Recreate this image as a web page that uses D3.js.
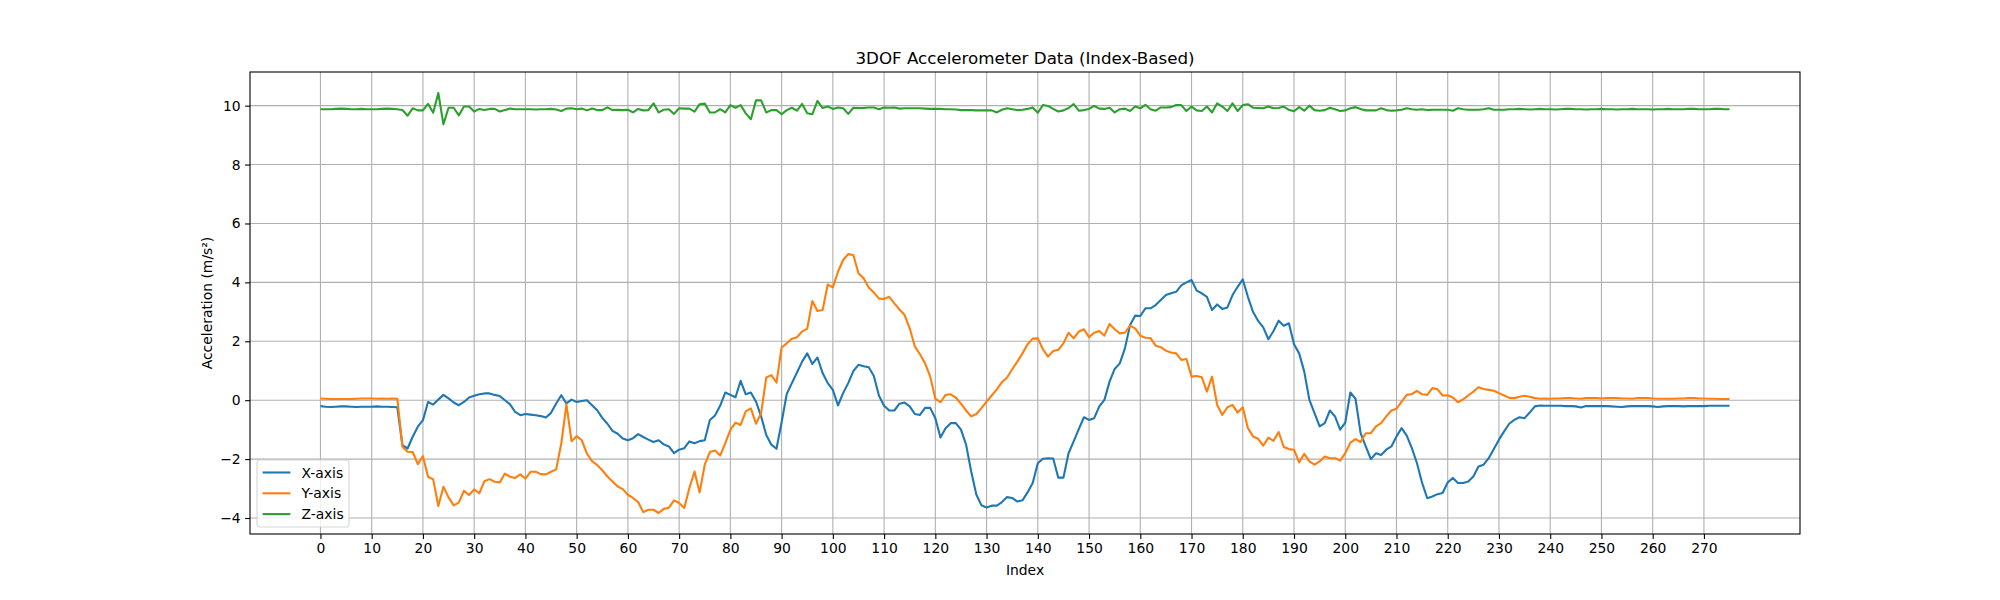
<!DOCTYPE html>
<html>
<head>
<meta charset="utf-8">
<title>3DOF Accelerometer Data</title>
<script src="https://cdn.jsdelivr.net/npm/d3@7"></script>
<style>
  body { margin: 0; background: #fff; }
  svg { display: block; font-family: "DejaVu Sans", sans-serif; }
</style>
</head>
<body>
<svg id="chart" width="2000" height="600"></svg>
<script>
// accelerometer samples (index 0..275)
const accX = [
  -0.20,-0.22,-0.23,-0.22,-0.21,-0.21,-0.22,-0.23,-0.22,-0.22,
  -0.22,-0.21,-0.22,-0.22,-0.23,-0.24,-1.53,-1.64,-1.24,-0.90,
  -0.68,-0.06,-0.15,0.02,0.18,0.06,-0.08,-0.17,-0.06,0.09,
  0.15,0.20,0.23,0.23,0.18,0.14,0.00,-0.14,-0.40,-0.51,
  -0.47,-0.49,-0.51,-0.54,-0.59,-0.43,-0.11,0.17,-0.11,0.02,
  -0.06,-0.03,0.00,-0.17,-0.34,-0.60,-0.80,-1.04,-1.14,-1.30,
  -1.36,-1.29,-1.15,-1.25,-1.34,-1.42,-1.36,-1.50,-1.57,-1.80,
  -1.68,-1.63,-1.40,-1.46,-1.39,-1.36,-0.67,-0.52,-0.19,0.26,
  0.18,0.10,0.66,0.20,0.26,-0.05,-0.55,-1.18,-1.51,-1.65,
  -0.75,0.21,0.58,0.94,1.31,1.59,1.23,1.45,0.92,0.58,
  0.35,-0.18,0.24,0.58,0.99,1.20,1.15,1.12,0.82,0.15,
  -0.19,-0.35,-0.35,-0.12,-0.08,-0.21,-0.47,-0.50,-0.26,-0.26,
  -0.61,-1.27,-0.95,-0.78,-0.78,-1.00,-1.51,-2.42,-3.20,-3.57,
  -3.64,-3.58,-3.58,-3.46,-3.29,-3.32,-3.44,-3.40,-3.13,-2.81,
  -2.14,-1.99,-1.97,-1.98,-2.63,-2.63,-1.80,-1.40,-0.98,-0.58,
  -0.67,-0.61,-0.21,0.01,0.63,1.06,1.25,1.76,2.55,2.87,
  2.86,3.12,3.12,3.23,3.40,3.57,3.63,3.68,3.90,4.00,
  4.08,3.72,3.63,3.51,3.06,3.25,3.10,3.15,3.57,3.85,
  4.10,3.51,3.00,2.69,2.47,2.07,2.35,2.70,2.53,2.61,
  1.90,1.59,0.97,0.01,-0.44,-0.89,-0.78,-0.35,-0.55,-1.00,
  -0.76,0.26,0.05,-1.12,-1.57,-2.00,-1.80,-1.86,-1.68,-1.57,
  -1.23,-0.95,-1.20,-1.63,-2.14,-2.81,-3.33,-3.27,-3.19,-3.15,
  -2.79,-2.64,-2.81,-2.81,-2.76,-2.59,-2.25,-2.19,-1.97,-1.66,
  -1.34,-1.06,-0.80,-0.67,-0.58,-0.61,-0.42,-0.21,-0.18,-0.19,
  -0.19,-0.19,-0.19,-0.20,-0.20,-0.21,-0.25,-0.20,-0.20,-0.20,
  -0.20,-0.20,-0.21,-0.22,-0.23,-0.21,-0.20,-0.20,-0.20,-0.20,
  -0.21,-0.23,-0.21,-0.20,-0.20,-0.20,-0.21,-0.20,-0.20,-0.20,
  -0.20,-0.19,-0.19,-0.19,-0.19,-0.19
];

const accY = [
  0.06,0.05,0.04,0.04,0.04,0.04,0.04,0.05,0.06,0.06,
  0.06,0.05,0.06,0.05,0.06,0.05,-1.58,-1.75,-1.76,-2.17,
  -1.90,-2.60,-2.69,-3.59,-2.94,-3.30,-3.57,-3.48,-3.08,-3.22,
  -3.03,-3.16,-2.75,-2.68,-2.77,-2.79,-2.49,-2.60,-2.64,-2.52,
  -2.66,-2.43,-2.43,-2.51,-2.52,-2.43,-2.35,-1.47,-0.14,-1.39,
  -1.22,-1.36,-1.81,-2.07,-2.20,-2.38,-2.59,-2.76,-2.93,-3.02,
  -3.21,-3.32,-3.46,-3.80,-3.72,-3.72,-3.83,-3.69,-3.65,-3.40,
  -3.49,-3.66,-2.98,-2.42,-3.13,-2.19,-1.76,-1.71,-1.88,-1.46,
  -1.01,-0.76,-0.84,-0.38,-0.28,-0.80,-0.44,0.77,0.85,0.60,
  1.79,1.93,2.09,2.14,2.33,2.43,3.37,3.03,3.06,3.93,
  3.83,4.36,4.76,4.96,4.93,4.31,4.14,3.83,3.66,3.45,
  3.44,3.51,3.29,3.08,2.89,2.44,1.82,1.56,1.25,0.80,
  0.05,-0.07,0.18,0.20,0.09,-0.12,-0.35,-0.55,-0.47,-0.27,
  -0.05,0.16,0.37,0.61,0.77,1.05,1.31,1.59,1.90,2.09,
  2.10,1.73,1.48,1.67,1.71,1.93,2.29,2.10,2.33,2.41,
  2.14,2.29,2.35,2.19,2.59,2.41,2.27,2.29,2.53,2.44,
  2.19,2.12,2.11,1.85,1.80,1.68,1.62,1.59,1.37,1.40,
  0.80,0.82,0.78,0.29,0.80,-0.16,-0.50,-0.24,-0.16,-0.42,
  -0.24,-0.95,-1.23,-1.31,-1.54,-1.27,-1.38,-1.08,-1.59,-1.66,
  -1.68,-2.11,-1.82,-2.08,-2.19,-2.08,-1.91,-1.97,-1.97,-2.05,
  -1.80,-1.44,-1.32,-1.42,-1.12,-1.12,-0.89,-0.78,-0.55,-0.35,
  -0.29,-0.05,0.18,0.21,0.32,0.20,0.18,0.41,0.37,0.16,
  0.17,0.09,-0.07,0.03,0.16,0.29,0.44,0.38,0.35,0.32,
  0.24,0.16,0.08,0.07,0.12,0.15,0.12,0.07,0.05,0.06,
  0.05,0.06,0.06,0.07,0.07,0.06,0.05,0.07,0.07,0.07,
  0.06,0.07,0.07,0.07,0.06,0.06,0.05,0.07,0.07,0.07,
  0.06,0.05,0.05,0.05,0.05,0.06,0.06,0.07,0.07,0.06,
  0.06,0.05,0.05,0.04,0.04,0.04
];

const accZ = [
  9.88,9.88,9.88,9.89,9.90,9.89,9.88,9.88,9.89,9.88,
  9.88,9.88,9.89,9.90,9.89,9.88,9.85,9.66,9.91,9.84,
  9.84,10.06,9.76,10.43,9.37,9.93,9.93,9.67,9.97,9.97,
  9.80,9.89,9.85,9.89,9.89,9.80,9.85,9.90,9.88,9.88,
  9.88,9.88,9.87,9.88,9.88,9.89,9.87,9.82,9.90,9.91,
  9.88,9.90,9.84,9.90,9.85,9.85,9.94,9.85,9.86,9.85,
  9.86,9.77,9.89,9.84,9.85,10.08,9.77,9.86,9.88,9.72,
  9.91,9.90,9.90,9.80,10.05,10.07,9.77,9.77,9.88,9.77,
  10.02,9.93,10.02,9.74,9.54,10.18,10.18,9.77,9.85,9.85,
  9.71,9.85,9.93,9.83,10.06,9.74,9.71,10.16,9.92,9.97,
  9.89,9.94,9.91,9.72,9.93,9.92,9.92,9.94,9.94,9.88,
  9.94,9.93,9.94,9.90,9.91,9.91,9.91,9.91,9.90,9.89,
  9.89,9.89,9.88,9.88,9.87,9.85,9.85,9.85,9.84,9.84,
  9.84,9.84,9.77,9.86,9.91,9.88,9.85,9.86,9.89,9.94,
  9.76,10.02,9.99,9.89,9.80,9.84,9.92,10.05,9.83,9.85,
  9.89,9.99,9.90,9.89,9.93,9.77,9.88,9.90,9.82,9.97,
  9.91,10.03,9.88,9.83,9.94,9.94,9.95,10.02,10.02,9.82,
  9.97,9.84,9.82,9.97,9.77,10.08,9.97,9.82,10.08,9.82,
  10.02,10.05,9.93,9.92,9.91,9.97,9.91,9.92,9.97,9.86,
  9.81,9.95,9.83,10.00,9.85,9.83,9.85,9.93,9.88,9.82,
  9.84,9.91,9.95,9.89,9.84,9.84,9.84,9.91,9.85,9.83,
  9.84,9.86,9.91,9.88,9.86,9.88,9.85,9.86,9.86,9.86,
  9.86,9.83,9.91,9.88,9.86,9.86,9.86,9.88,9.91,9.86,
  9.86,9.86,9.88,9.88,9.89,9.88,9.87,9.88,9.89,9.88,
  9.88,9.87,9.88,9.89,9.89,9.88,9.88,9.87,9.88,9.88,
  9.89,9.88,9.88,9.87,9.88,9.88,9.89,9.88,9.88,9.88,
  9.87,9.88,9.88,9.89,9.88,9.88,9.88,9.89,9.89,9.88,
  9.88,9.88,9.89,9.89,9.88,9.88
];

const seriesNames = ["X-axis", "Y-axis", "Z-axis"];
const seriesColors = ["#1f77b4", "#ff7f0e", "#2ca02c"];
const xTicks = d3.range(0, 271, 10);
const yTicks = [-4, -2, 0, 2, 4, 6, 8, 10];

const series = [accX, accY, accZ];

const W = 2000, H = 600;
const margin = { left: 250, right: 200, top: 72, bottom: 66 };
const x0 = margin.left, x1 = W - margin.right;
const y0 = margin.top, y1 = H - margin.bottom;

const svg = d3.select("#chart");

// matplotlib style 5% padding on both axes
const n = accX.length;
const xPad = (n - 1) * 0.05;
const x = d3.scaleLinear().domain([-xPad, n - 1 + xPad]).range([x0, x1]);

const allVals = [].concat(accX, accY, accZ);
const [vMin, vMax] = d3.extent(allVals);
const yPad = (vMax - vMin) * 0.05;
const y = d3.scaleLinear().domain([vMin - yPad, vMax + yPad]).range([y1, y0]);

// grid
const grid = svg.append("g");
grid.selectAll("line.gx")
  .data(xTicks)
  .enter()
  .append("line")
  .attr("x1", d => x(d)).attr("x2", d => x(d))
  .attr("y1", y0).attr("y2", y1)
  .attr("stroke", "#b0b0b0").attr("stroke-width", 1.1);
grid.selectAll("line.gy")
  .data(yTicks)
  .enter()
  .append("line")
  .attr("y1", d => y(d)).attr("y2", d => y(d))
  .attr("x1", x0).attr("x2", x1)
  .attr("stroke", "#b0b0b0").attr("stroke-width", 1.1);

// data lines
const line = d3.line()
  .x((d, i) => x(i))
  .y(d => y(d));

svg.append("g")
  .selectAll("path")
  .data(series)
  .enter()
  .append("path")
  .attr("d", line)
  .attr("fill", "none")
  .attr("stroke", (d, i) => seriesColors[i])
  .attr("stroke-width", 2.1)
  .attr("stroke-linejoin", "round");

// axes
const xAxis = svg.append("g")
  .attr("transform", `translate(0,${y1})`)
  .call(d3.axisBottom(x).tickValues(xTicks).tickSize(4.9).tickPadding(4.5));
const yAxis = svg.append("g")
  .attr("transform", `translate(${x0},0)`)
  .call(d3.axisLeft(y).tickValues(yTicks).tickSize(4.9).tickPadding(4.5));

[xAxis, yAxis].forEach(a => {
  a.select(".domain").remove();
  a.selectAll(".tick line").attr("stroke", "#000").attr("stroke-width", 1.1);
  a.selectAll(".tick text")
    .attr("fill", "#000")
    .style("font-size", "13.9px")
    .style("font-family", "DejaVu Sans");
});

// frame
svg.append("rect")
  .attr("x", x0).attr("y", y0)
  .attr("width", x1 - x0).attr("height", y1 - y0)
  .attr("fill", "none")
  .attr("stroke", "#000")
  .attr("stroke-width", 1.1);

// title and labels
svg.append("text")
  .attr("x", (x0 + x1) / 2).attr("y", 63.5)
  .attr("text-anchor", "middle")
  .style("font-size", "16.7px")
  .text("3DOF Accelerometer Data (Index-Based)");

svg.append("text")
  .attr("x", (x0 + x1) / 2).attr("y", 575)
  .attr("text-anchor", "middle")
  .style("font-size", "13.9px")
  .text("Index");

svg.append("text")
  .attr("transform", `translate(212,${(y0 + y1) / 2}) rotate(-90)`)
  .attr("text-anchor", "middle")
  .style("font-size", "13.9px")
  .text("Acceleration (m/s²)");

// legend (lower left)
const lg = svg.append("g").attr("transform", `translate(${x0 + 7},${y1 - 7 - 67})`);
lg.append("rect")
  .attr("width", 92).attr("height", 67)
  .attr("rx", 2.8).attr("ry", 2.8)
  .attr("fill", "#fff").attr("fill-opacity", 0.8)
  .attr("stroke", "#cccccc").attr("stroke-opacity", 0.8)
  .attr("stroke-width", 1.1);

const rows = lg.selectAll("g.row")
  .data(seriesNames)
  .enter()
  .append("g")
  .attr("transform", (d, i) => `translate(0,${12.5 + i * 20.8})`);
rows.append("line")
  .attr("x1", 5.6).attr("x2", 33.4)
  .attr("stroke", (d, i) => seriesColors[i])
  .attr("stroke-width", 2.1);
rows.append("text")
  .attr("x", 44.5).attr("y", 5)
  .style("font-size", "13.9px")
  .text(d => d);
</script>
</body>
</html>
